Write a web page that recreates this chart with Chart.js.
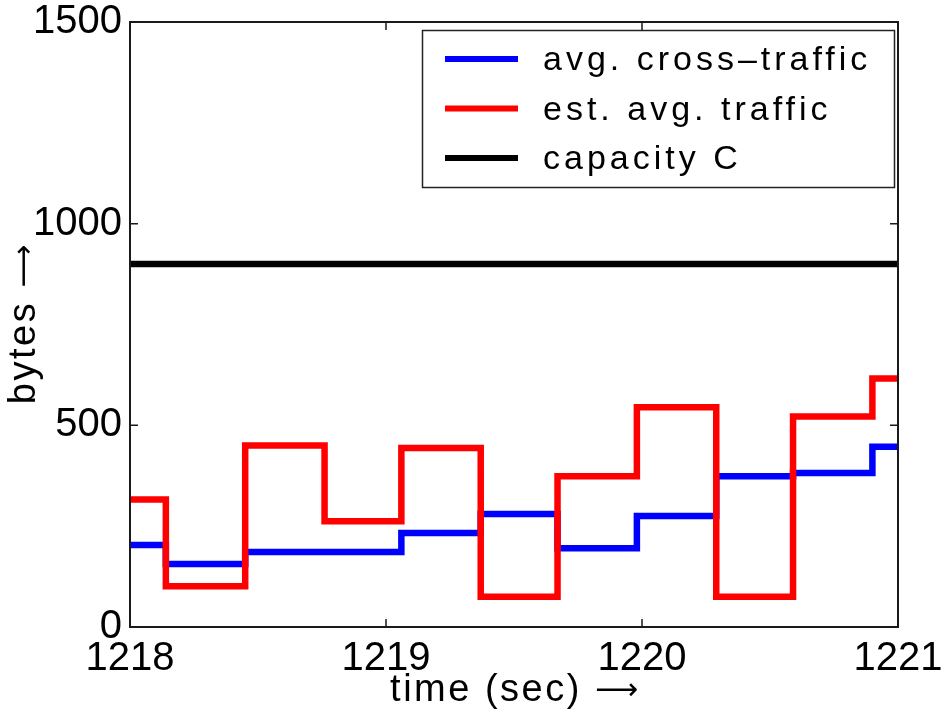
<!DOCTYPE html>
<html>
<head>
<meta charset="utf-8">
<script src="https://cdn.jsdelivr.net/npm/chart.js@4.4.1/dist/chart.umd.min.js"></script>
<style>
  html, body { margin: 0; padding: 0; background: #fff; }
  #wrap { width: 944px; height: 711px; position: relative; }
</style>
</head>
<body>
<div id="wrap"><canvas id="traffic"></canvas></div>
<script>
// step boundaries (sec) and the byte averages holding from each one
const timeSec      = [1218, 1218.14, 1218.45, 1218.76, 1219.06, 1219.37, 1219.67, 1219.98, 1220.29, 1220.59, 1220.90, 1221];
const crossTraffic = [203, 156, 186, 186, 233, 280, 195, 275, 374, 382, 447, 447];
const estTraffic   = [316, 101, 450, 262, 444, 75, 374, 545, 75, 522, 616, 616];
const capacityTime = [1218, 1221];
const capacity     = [900, 900];

const xTicks = [1218, 1219, 1220, 1221];
const yTicks = [0, 500, 1000, 1500];

const seriesLabels = ['avg. cross\u2013traffic', 'est. avg. traffic', 'capacity C'];
const seriesColors = ['#0000ff', '#ff0000', '#000000'];

const FONT = '"Liberation Sans", Arial, sans-serif';
const ARROW_FONT = '"DejaVu Sans", sans-serif';
const ARROW = '\u27f6';

const toPoints = (xs, ys) => xs.map((x, i) => ({ x, y: ys[i] }));

// text followed by a long arrow, centred on (cx, y)
function titleWithArrow(ctx, text, cx, y) {
    ctx.font = '38px ' + FONT;
    ctx.letterSpacing = '2.5px';
    const w1 = ctx.measureText(text).width;
    ctx.letterSpacing = '0px';
    ctx.font = '30px ' + ARROW_FONT;
    const w2 = ctx.measureText(ARROW).width;
    const x = cx - (w1 + w2) / 2;
    ctx.textAlign = 'left';
    ctx.font = '38px ' + FONT;
    ctx.letterSpacing = '2.5px';
    ctx.fillText(text, x, y);
    ctx.letterSpacing = '0px';
    ctx.font = '30px ' + ARROW_FONT;
    ctx.fillText(ARROW, x + w1, y - 2);
}

// frame, inward ticks, axis titles and the boxed legend
const decorations = {
    id: 'decorations',
    afterDraw(chart) {
        const { ctx, chartArea: a, scales } = chart;
        ctx.save();

        ctx.strokeStyle = '#1a1a1a';
        ctx.lineWidth = 2;
        ctx.strokeRect(a.left, a.top, a.right - a.left, a.bottom - a.top);

        ctx.lineWidth = 1.5;
        ctx.beginPath();
        yTicks.forEach(v => {
            const y = scales.y.getPixelForValue(v);
            ctx.moveTo(a.left, y); ctx.lineTo(a.left + 8, y);
            ctx.moveTo(a.right, y); ctx.lineTo(a.right - 8, y);
        });
        xTicks.forEach(v => {
            const x = scales.x.getPixelForValue(v);
            ctx.moveTo(x, a.bottom); ctx.lineTo(x, a.bottom - 8);
            ctx.moveTo(x, a.top); ctx.lineTo(x, a.top + 8);
        });
        ctx.stroke();

        // axis titles
        ctx.fillStyle = '#000';
        ctx.textBaseline = 'alphabetic';
        titleWithArrow(ctx, 'time (sec) ', (a.left + a.right) / 2, 701);
        ctx.save();
        ctx.translate(35, (a.top + a.bottom) / 2);
        ctx.rotate(-Math.PI / 2);
        titleWithArrow(ctx, 'bytes ', 0, 0);
        ctx.restore();

        // legend
        const box = { x: 422, y: 30, w: 472, h: 157 };
        ctx.fillStyle = '#fff';
        ctx.fillRect(box.x, box.y, box.w, box.h);
        ctx.strokeStyle = '#222';
        ctx.lineWidth = 1.5;
        ctx.strokeRect(box.x + 0.5, box.y + 0.5, box.w, box.h);

        ctx.font = '34px ' + FONT;
        ctx.letterSpacing = '4px';
        ctx.textAlign = 'left';
        ctx.textBaseline = 'middle';
        seriesLabels.forEach((label, i) => {
            const y = box.y + 29 + i * 49.5;
            ctx.strokeStyle = seriesColors[i];
            ctx.lineWidth = 6;
            ctx.beginPath();
            ctx.moveTo(445, y); ctx.lineTo(518, y);
            ctx.stroke();
            ctx.fillStyle = '#000';
            ctx.fillText(label, 543, y + 2);
        });
        ctx.letterSpacing = '0px';
        ctx.restore();
    }
};

const lineStyle = {
    stepped: true,
    borderWidth: 6.5,
    pointRadius: 0,
    borderJoinStyle: 'miter',
    borderCapStyle: 'butt',
    fill: false,
    tension: 0
};

new Chart(document.getElementById('traffic'), {
    type: 'line',
    data: {
        datasets: [
            { ...lineStyle, label: seriesLabels[0], data: toPoints(timeSec, crossTraffic), borderColor: seriesColors[0], order: 1 },
            { ...lineStyle, label: seriesLabels[1], data: toPoints(timeSec, estTraffic), borderColor: seriesColors[1], order: 0 },
            { ...lineStyle, label: seriesLabels[2], data: toPoints(capacityTime, capacity), borderColor: seriesColors[2], order: 2 }
        ]
    },
    options: {
        responsive: true,
        maintainAspectRatio: false,
        animation: false,
        layout: { padding: { top: 22, right: 46, left: 0, bottom: 0 } },
        plugins: { legend: { display: false }, tooltip: { enabled: false } },
        scales: {
            x: {
                type: 'linear',
                min: xTicks[0],
                max: xTicks[xTicks.length - 1],
                grid: { display: false, drawTicks: false },
                border: { display: false },
                afterBuildTicks: s => { s.ticks = xTicks.map(v => ({ value: v })); },
                afterFit: s => { s.height = 84; s.paddingLeft = 0; s.paddingRight = 0; },
                ticks: {
                    color: '#000',
                    padding: 8,
                    maxRotation: 0,
                    font: { family: FONT, size: 40 },
                    callback: v => String(v)
                }
            },
            y: {
                min: yTicks[0],
                max: yTicks[yTicks.length - 1],
                grid: { display: false, drawTicks: false },
                border: { display: false },
                afterBuildTicks: s => { s.ticks = yTicks.map(v => ({ value: v })); },
                afterFit: s => { s.width = 130; s.paddingTop = 0; s.paddingBottom = 0; },
                ticks: {
                    color: '#000',
                    padding: 8,
                    font: { family: FONT, size: 40 },
                    callback: v => String(v)
                }
            }
        }
    },
    plugins: [decorations]
});
</script>
</body>
</html>
